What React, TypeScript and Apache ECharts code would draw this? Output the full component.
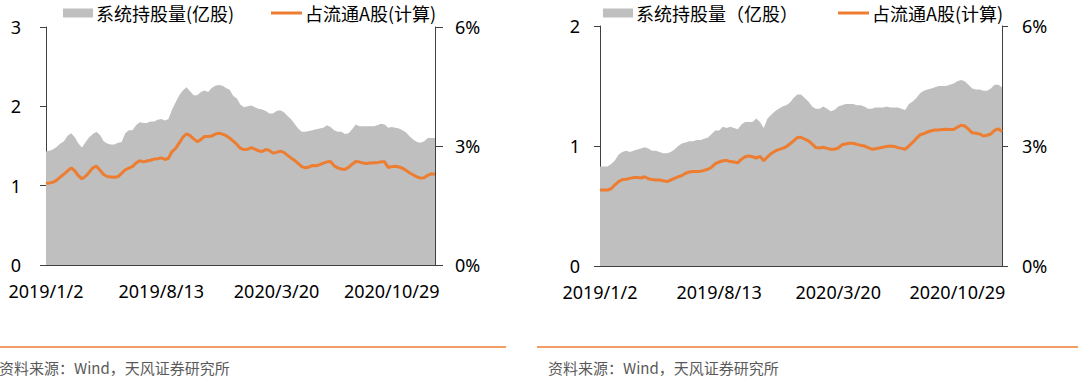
import React, { useEffect, useRef } from "react";
import * as echarts from "echarts";

const dates = [
  "2019/1/2","2019/1/9","2019/1/16","2019/1/23","2019/1/30","2019/2/6","2019/2/13","2019/2/20","2019/2/27","2019/3/6",
  "2019/3/13","2019/3/20","2019/3/27","2019/4/3","2019/4/10","2019/4/17","2019/4/24","2019/5/1","2019/5/8","2019/5/15",
  "2019/5/22","2019/5/29","2019/6/5","2019/6/12","2019/6/19","2019/6/26","2019/7/3","2019/7/10","2019/7/17","2019/7/24",
  "2019/7/31","2019/8/7","2019/8/13","2019/8/20","2019/8/27","2019/9/3","2019/9/10","2019/9/17","2019/9/24","2019/10/1",
  "2019/10/8","2019/10/15","2019/10/22","2019/10/29","2019/11/5","2019/11/12","2019/11/19","2019/11/26","2019/12/3","2019/12/10",
  "2019/12/17","2019/12/24","2019/12/31","2020/1/7","2020/1/14","2020/1/21","2020/1/28","2020/2/4","2020/2/11","2020/2/18",
  "2020/2/25","2020/3/3","2020/3/10","2020/3/17","2020/3/20","2020/3/27","2020/4/3","2020/4/10","2020/4/17","2020/4/24",
  "2020/5/1","2020/5/8","2020/5/15","2020/5/22","2020/5/29","2020/6/5","2020/6/12","2020/6/19","2020/6/26","2020/7/3",
  "2020/7/10","2020/7/17","2020/7/24","2020/7/31","2020/8/7","2020/8/14","2020/8/21","2020/8/28","2020/9/4","2020/9/11",
  "2020/9/18","2020/9/25","2020/10/2","2020/10/9","2020/10/16","2020/10/23","2020/10/29","2020/11/5","2020/11/12","2020/11/19",
  "2020/11/26","2020/12/3","2020/12/10","2020/12/17","2020/12/24","2020/12/31","2021/1/7","2021/1/14","2021/1/21",
];

const tickLabels = ["2019/1/2", "2019/8/13", "2020/3/20", "2020/10/29"];

// Left chart
const leftHolding = [
  1.43,1.44,1.46,1.49,1.53,1.56,1.63,1.66,1.61,1.53,
  1.48,1.55,1.61,1.65,1.68,1.64,1.56,1.53,1.52,1.52,
  1.54,1.55,1.66,1.70,1.70,1.76,1.80,1.79,1.79,1.81,
  1.81,1.83,1.84,1.82,1.84,1.96,2.05,2.14,2.20,2.24,
  2.19,2.14,2.14,2.18,2.20,2.18,2.23,2.26,2.27,2.26,
  2.23,2.21,2.13,2.10,2.02,1.99,2.00,2.01,1.99,1.97,
  1.96,1.94,1.91,1.91,1.94,1.95,1.93,1.88,1.84,1.78,
  1.72,1.68,1.68,1.69,1.70,1.71,1.72,1.73,1.76,1.74,
  1.70,1.68,1.68,1.65,1.66,1.71,1.77,1.75,1.75,1.75,
  1.75,1.75,1.76,1.78,1.77,1.73,1.74,1.73,1.72,1.70,
  1.67,1.62,1.58,1.55,1.54,1.56,1.60,1.60,1.60,
];

const leftRatio = [
  2.06,2.07,2.09,2.14,2.22,2.29,2.37,2.45,2.37,2.25,
  2.17,2.24,2.34,2.45,2.49,2.39,2.28,2.23,2.22,2.21,
  2.23,2.31,2.40,2.44,2.48,2.57,2.63,2.60,2.62,2.64,
  2.67,2.68,2.70,2.66,2.69,2.86,2.94,3.08,3.22,3.31,
  3.26,3.18,3.11,3.16,3.24,3.24,3.25,3.30,3.32,3.30,
  3.26,3.20,3.12,3.04,2.94,2.91,2.92,2.96,2.92,2.88,
  2.86,2.91,2.89,2.82,2.84,2.87,2.84,2.77,2.70,2.64,
  2.56,2.48,2.45,2.47,2.51,2.50,2.53,2.57,2.60,2.61,
  2.50,2.45,2.42,2.41,2.46,2.54,2.61,2.60,2.57,2.56,
  2.57,2.58,2.58,2.60,2.60,2.46,2.48,2.49,2.47,2.44,
  2.38,2.32,2.27,2.22,2.19,2.20,2.26,2.30,2.29,
];

// Right chart
const rightHolding = [
  0.83,0.83,0.83,0.85,0.88,0.93,0.95,0.96,0.95,0.96,
  0.97,0.98,0.99,0.98,0.96,0.96,0.95,0.94,0.94,0.95,
  0.97,1.00,1.02,1.03,1.04,1.04,1.05,1.05,1.06,1.07,
  1.10,1.13,1.13,1.16,1.15,1.16,1.15,1.14,1.18,1.20,
  1.20,1.20,1.23,1.20,1.15,1.23,1.26,1.29,1.31,1.33,
  1.34,1.36,1.40,1.43,1.43,1.40,1.37,1.33,1.31,1.31,
  1.33,1.31,1.29,1.30,1.33,1.34,1.35,1.35,1.35,1.34,
  1.34,1.33,1.31,1.31,1.32,1.32,1.32,1.33,1.32,1.32,
  1.32,1.31,1.30,1.35,1.37,1.40,1.44,1.46,1.47,1.48,
  1.49,1.50,1.50,1.50,1.51,1.52,1.54,1.55,1.54,1.51,
  1.48,1.47,1.47,1.46,1.46,1.48,1.51,1.51,1.49,
];

const rightRatio = [
  1.90,1.90,1.90,1.93,2.03,2.11,2.16,2.17,2.19,2.21,
  2.21,2.20,2.23,2.18,2.16,2.15,2.15,2.13,2.11,2.15,
  2.19,2.23,2.26,2.32,2.35,2.36,2.36,2.37,2.39,2.42,
  2.47,2.56,2.60,2.63,2.64,2.61,2.60,2.58,2.67,2.73,
  2.75,2.73,2.70,2.74,2.63,2.73,2.81,2.87,2.91,2.94,
  2.98,3.05,3.13,3.21,3.22,3.17,3.13,3.05,2.96,2.95,
  2.97,2.94,2.92,2.92,2.95,3.03,3.05,3.07,3.07,3.04,
  3.02,3.00,2.96,2.92,2.93,2.95,2.97,2.99,3.00,2.99,
  2.96,2.94,2.92,3.00,3.09,3.19,3.28,3.31,3.35,3.38,
  3.40,3.40,3.41,3.42,3.41,3.41,3.47,3.52,3.50,3.42,
  3.33,3.32,3.30,3.25,3.27,3.30,3.39,3.43,3.36,
];

const NAME_AREA_L = "系统持股量(亿股)";
const NAME_AREA_R = "系统持股量（亿股）";
const NAME_LINE = "占流通A股(计算)";
const SOURCE = "资料来源：Wind，天风证券研究所";

const GRAY = "#BFBFBF";
const ORANGE = "#ED7D31";
const AXIS = "#404040";
const NUM_FONT = '"Noto Sans", "Noto Sans CJK SC", sans-serif';
const CJK_FONT = '"Noto Sans CJK SC", "Noto Sans", sans-serif';

function xAxisFor(gridIndex: number) {
  return {
    gridIndex,
    type: "category",
    data: dates,
    boundaryGap: false,
    axisLine: { show: true, lineStyle: { color: AXIS, width: 1 } },
    axisTick: { show: false },
    splitLine: { show: false },
    axisLabel: {
      interval: (_i: number, v: string) => tickLabels.includes(v),
      fontSize: 18,
      fontFamily: NUM_FONT,
      color: "#000",
      margin: 17,
    },
  };
}

function yAxisFor(gridIndex: number, position: string, max: number, interval: number, pct: boolean, margin: number, tickLen: number) {
  return {
    gridIndex,
    type: "value",
    position,
    min: 0,
    max,
    interval,
    axisLine: { show: true, lineStyle: { color: AXIS, width: 1 } },
    axisTick: { show: true, inside: false, length: tickLen, lineStyle: { color: AXIS } },
    splitLine: { show: false },
    axisLabel: {
      fontSize: 18,
      fontFamily: NUM_FONT,
      color: "#000",
      margin,
      formatter: pct ? "{value}%" : "{value}",
    },
  };
}

function legendItem(name: string, left: number, isLine: boolean) {
  return {
    data: [name],
    left,
    top: 4,
    padding: 0,
    icon: "rect",
    itemWidth: isLine ? 31 : 30,
    itemHeight: isLine ? 3 : 9,
    itemGap: 0,
    selectedMode: false,
    textStyle: { fontSize: 18, fontFamily: CJK_FONT, color: "#000", padding: [0, 0, 0, -2] },
  };
}

export default function App() {
  const ref = useRef<HTMLDivElement>(null);
  useEffect(() => {
    if (!ref.current) return;
    const chart = echarts.init(ref.current, undefined, { renderer: "svg" });
    const option = {
      animation: false,
      backgroundColor: "#fff",
      grid: [
        { left: 46, top: 27, width: 389, height: 238 },
        { left: 600, top: 26, width: 402, height: 240 },
      ],
      legend: [
        legendItem(NAME_AREA_L, 63, false),
        legendItem(NAME_LINE, 271, true),
        legendItem(NAME_AREA_R, 603, false),
        legendItem(NAME_LINE, 838, true),
      ],
      xAxis: [xAxisFor(0), xAxisFor(1)],
      yAxis: [
        yAxisFor(0, "left", 3, 1, false, 25, 6),
        yAxisFor(0, "right", 6, 3, true, 20, 8),
        yAxisFor(1, "left", 2, 1, false, 20, 6),
        yAxisFor(1, "right", 6, 3, true, 20, 6),
      ],
      series: [
        {
          name: NAME_AREA_L, type: "line", xAxisIndex: 0, yAxisIndex: 0, data: leftHolding,
          symbol: "none", lineStyle: { width: 0, color: GRAY }, itemStyle: { color: GRAY },
          areaStyle: { color: GRAY, opacity: 1 },
        },
        {
          name: NAME_LINE, type: "line", xAxisIndex: 0, yAxisIndex: 1, data: leftRatio,
          symbol: "none", lineStyle: { width: 3, color: ORANGE }, itemStyle: { color: ORANGE },
        },
        {
          name: NAME_AREA_R, type: "line", xAxisIndex: 1, yAxisIndex: 2, data: rightHolding,
          symbol: "none", lineStyle: { width: 0, color: GRAY }, itemStyle: { color: GRAY },
          areaStyle: { color: GRAY, opacity: 1 },
        },
        {
          name: NAME_LINE, type: "line", xAxisIndex: 1, yAxisIndex: 3, data: rightRatio,
          symbol: "none", lineStyle: { width: 3, color: ORANGE }, itemStyle: { color: ORANGE },
        },
      ],
      graphic: [
        { type: "line", shape: { x1: 0, y1: 347, x2: 506, y2: 347 }, style: { stroke: ORANGE, lineWidth: 1.5 } },
        { type: "line", shape: { x1: 537, y1: 347, x2: 1078, y2: 347 }, style: { stroke: ORANGE, lineWidth: 1.5 } },
        { type: "text", x: -1, y: 367, style: { text: SOURCE, fontSize: 15, fontFamily: CJK_FONT, fill: "#595959", verticalAlign: "middle" } },
        { type: "text", x: 548, y: 367, style: { text: SOURCE, fontSize: 15, fontFamily: CJK_FONT, fill: "#595959", verticalAlign: "middle" } },
      ],
    };
    chart.setOption(option as any);
    return () => chart.dispose();
  }, []);
  return (
    <div
      ref={ref}
      style={{ position: "fixed", left: 0, top: 0, width: 1080, height: 377, background: "#fff" }}
    />
  );
}
